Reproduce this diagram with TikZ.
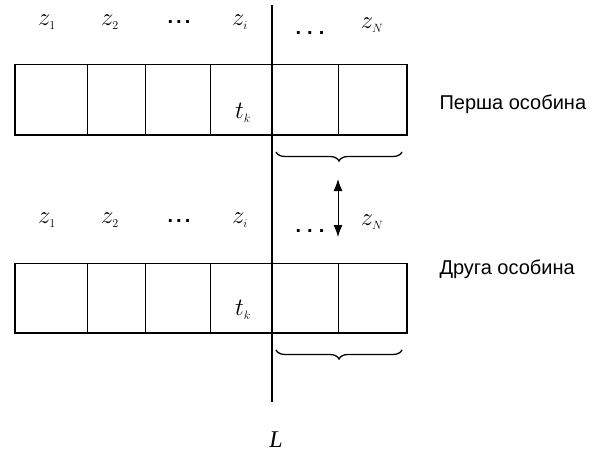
\documentclass[tikz,border=0pt]{standalone}
\usepackage{fontspec}
\setmainfont{Liberation Sans}
\newfontfamily\serifL{Liberation Serif}
\usetikzlibrary{decorations.pathreplacing,arrows.meta}
\newcommand{\mydots}[1]{.\hspace{#1}.\hspace{#1}.}
\begin{document}
\begin{tikzpicture}[x=1pt,y=-1pt,
  cell/.style={draw=black,line width=0.9pt},
  thickedge/.style={line width=2pt},
  zlab/.style={font=\fontsize{25}{27}\selectfont},
  dotlab/.style={font=\bfseries\fontsize{20}{22}\selectfont},
  sidelab/.style={font=\fontsize{20}{22}\selectfont,anchor=west},
  bracestyle/.style={decorate,decoration={brace,amplitude=9pt},line width=1.3pt}]
\useasboundingbox (0,0) rectangle (603,452);
\foreach \r/\yt/\yb in {1/64/135, 2/263/333}{
  \draw[cell] (15,\yt) rectangle (407,\yb);
  \foreach \x in {87,145,210,338} \draw[cell] (\x,\yt) -- (\x,\yb);
  \draw[thickedge] (15,\yt) -- (15,\yb) -- (407,\yb);
  \draw[line width=1.3pt] (407,\yt) -- (407,\yb);
}
% labels row 1
\node[zlab] (a1) at (47,22) {$z_{\scriptscriptstyle 1}$};
\node[zlab] (a2) at (110,22) {$z_{\scriptscriptstyle 2}$};
\node[dotlab] (a3) at (179,22) {\mydots{3pt}};
\node[dotlab] (a5) at (310,33) {\mydots{6pt}};
\node[zlab] (a4) at (240,22) {$z_{\scriptscriptstyle i}$};
\node[zlab] (a6) at (372,25) {$z_{\scriptscriptstyle N}$};
\node[zlab] (t1) at (243,113) {$t_{\scriptscriptstyle k}$};
% labels row 2
\node[zlab] (b1) at (47,220) {$z_{\scriptscriptstyle 1}$};
\node[zlab] (b2) at (110,220) {$z_{\scriptscriptstyle 2}$};
\node[dotlab] (b3) at (179,221) {\mydots{3pt}};
\node[dotlab] (b5) at (310,231) {\mydots{6pt}};
\node[zlab] (b4) at (240,220) {$z_{\scriptscriptstyle i}$};
\node[zlab] (b6) at (372,222) {$z_{\scriptscriptstyle N}$};
\node[zlab] (t2) at (243,310) {$t_{\scriptscriptstyle k}$};
% vertical line L
\coordinate (Ltop) at (272,5);
\coordinate (Lbot) at (272,402);
\draw[line width=2pt] (Ltop) -- (Lbot);
\node[font=\serifL\itshape\fontsize{24}{26}\selectfont] (L) at (276,440) {L};
% braces
\coordinate (br1a) at (402,152);
\coordinate (br1b) at (276,152);
\draw[bracestyle] (br1a) -- (br1b);
\coordinate (br2a) at (402,350);
\coordinate (br2b) at (276,350);
\draw[bracestyle] (br2a) -- (br2b);
% double arrow
\coordinate (arT) at (338,179);
\coordinate (arB) at (338,237);
\draw[{Latex[length=12pt,width=9pt]}-{Latex[length=12pt,width=9pt]},line width=1pt] (arT) -- (arB);
% side labels
\node[sidelab] (p1) at (436,104) {Перша особина};
\node[sidelab] (p2) at (436,269) {Друга особина};
\end{tikzpicture}
\end{document}
